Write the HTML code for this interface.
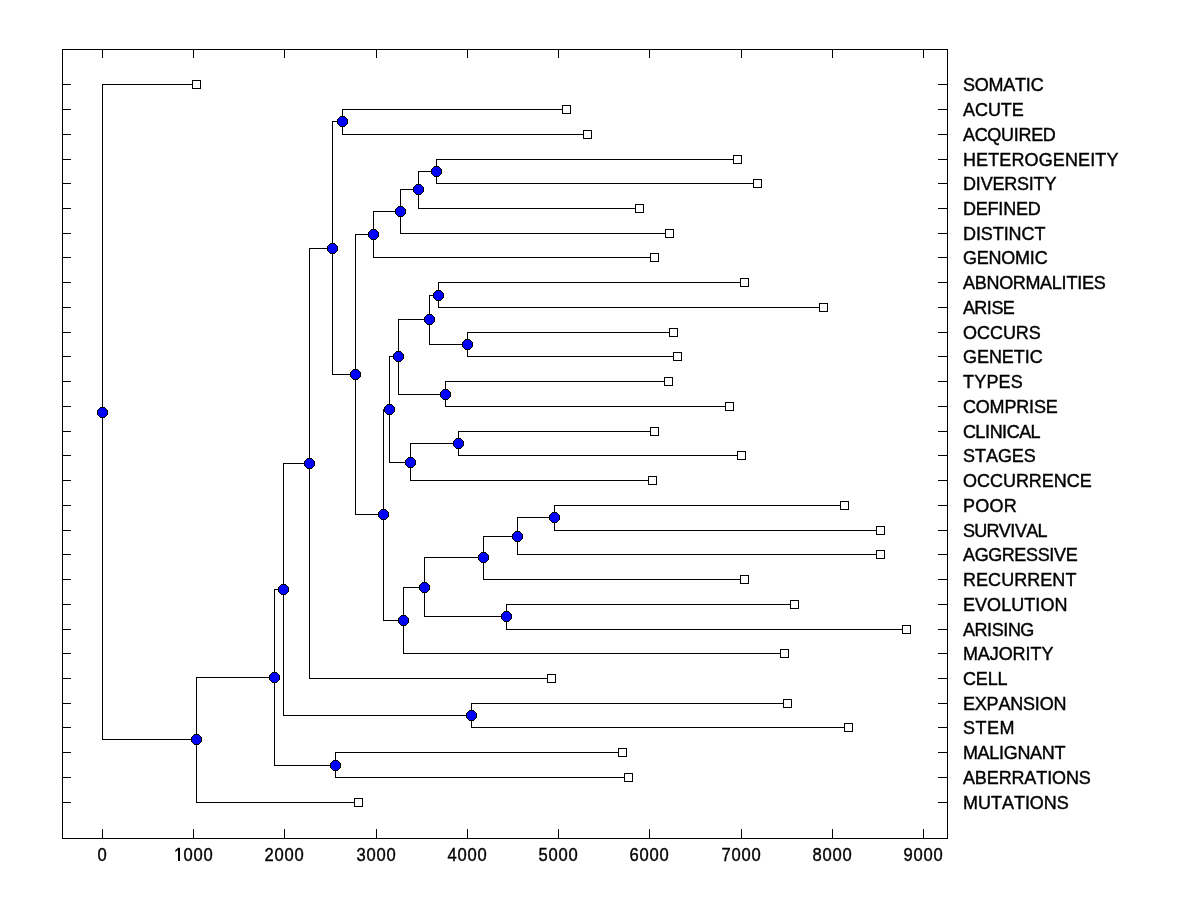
<!DOCTYPE html>
<html><head><meta charset="utf-8"><style>
html,body{margin:0;padding:0;background:#fff;}
svg{display:block;}
text{font-family:"Liberation Sans",sans-serif;font-size:18.0px;fill:#000;stroke:#000;stroke-width:0.4px;}
</style></head><body>
<svg width="1200" height="900" viewBox="0 0 1200 900">
<rect x="0" y="0" width="1200" height="900" fill="#fff"/>
<path shape-rendering="crispEdges" fill="#000" d="M62 49h886v1h-886zM62 838h886v1h-886zM62 49h1v790h-1zM947 49h1v790h-1zM102 829h1v10h-1zM102 49h1v9h-1zM193 829h1v10h-1zM193 49h1v9h-1zM284 829h1v10h-1zM284 49h1v9h-1zM376 829h1v10h-1zM376 49h1v9h-1zM467 829h1v10h-1zM467 49h1v9h-1zM558 829h1v10h-1zM558 49h1v9h-1zM649 829h1v10h-1zM649 49h1v9h-1zM741 829h1v10h-1zM741 49h1v9h-1zM832 829h1v10h-1zM832 49h1v9h-1zM923 829h1v10h-1zM923 49h1v9h-1zM62 84h9v1h-9zM938 84h10v1h-10zM62 109h9v1h-9zM938 109h10v1h-10zM62 134h9v1h-9zM938 134h10v1h-10zM62 159h9v1h-9zM938 159h10v1h-10zM62 183h9v1h-9zM938 183h10v1h-10zM62 208h9v1h-9zM938 208h10v1h-10zM62 233h9v1h-9zM938 233h10v1h-10zM62 257h9v1h-9zM938 257h10v1h-10zM62 282h9v1h-9zM938 282h10v1h-10zM62 307h9v1h-9zM938 307h10v1h-10zM62 332h9v1h-9zM938 332h10v1h-10zM62 356h9v1h-9zM938 356h10v1h-10zM62 381h9v1h-9zM938 381h10v1h-10zM62 406h9v1h-9zM938 406h10v1h-10zM62 431h9v1h-9zM938 431h10v1h-10zM62 455h9v1h-9zM938 455h10v1h-10zM62 480h9v1h-9zM938 480h10v1h-10zM62 505h9v1h-9zM938 505h10v1h-10zM62 530h9v1h-9zM938 530h10v1h-10zM62 554h9v1h-9zM938 554h10v1h-10zM62 579h9v1h-9zM938 579h10v1h-10zM62 604h9v1h-9zM938 604h10v1h-10zM62 629h9v1h-9zM938 629h10v1h-10zM62 653h9v1h-9zM938 653h10v1h-10zM62 678h9v1h-9zM938 678h10v1h-10zM62 703h9v1h-9zM938 703h10v1h-10zM62 727h9v1h-9zM938 727h10v1h-10zM62 752h9v1h-9zM938 752h10v1h-10zM62 777h9v1h-9zM938 777h10v1h-10zM62 802h9v1h-9zM938 802h10v1h-10zM102 84h1v656h-1zM102 84h95v1h-95zM102 739h95v1h-95zM196 677h1v126h-1zM196 677h79v1h-79zM196 802h163v1h-163zM274 589h1v177h-1zM274 589h10v1h-10zM274 765h62v1h-62zM335 752h1v26h-1zM335 752h288v1h-288zM335 777h294v1h-294zM283 463h1v253h-1zM283 463h27v1h-27zM283 715h189v1h-189zM471 703h1v25h-1zM471 703h317v1h-317zM471 727h378v1h-378zM309 248h1v431h-1zM309 248h24v1h-24zM309 678h243v1h-243zM332 121h1v254h-1zM332 121h11v1h-11zM332 374h24v1h-24zM342 109h1v26h-1zM342 109h225v1h-225zM342 134h246v1h-246zM355 234h1v281h-1zM355 234h19v1h-19zM355 514h29v1h-29zM373 211h1v47h-1zM373 211h28v1h-28zM373 257h282v1h-282zM400 189h1v45h-1zM400 189h19v1h-19zM400 233h270v1h-270zM418 171h1v38h-1zM418 171h19v1h-19zM418 208h222v1h-222zM436 159h1v25h-1zM436 159h302v1h-302zM436 183h322v1h-322zM383 409h1v212h-1zM383 409h7v1h-7zM383 620h21v1h-21zM389 356h1v107h-1zM389 356h10v1h-10zM389 462h22v1h-22zM398 319h1v76h-1zM398 319h32v1h-32zM398 394h48v1h-48zM429 295h1v50h-1zM429 295h10v1h-10zM429 344h39v1h-39zM438 282h1v26h-1zM438 282h307v1h-307zM438 307h386v1h-386zM467 332h1v25h-1zM467 332h207v1h-207zM467 356h211v1h-211zM445 381h1v26h-1zM445 381h224v1h-224zM445 406h285v1h-285zM410 443h1v38h-1zM410 443h49v1h-49zM410 480h243v1h-243zM458 431h1v25h-1zM458 431h197v1h-197zM458 455h284v1h-284zM403 587h1v67h-1zM403 587h22v1h-22zM403 653h382v1h-382zM424 557h1v60h-1zM424 557h60v1h-60zM424 616h83v1h-83zM483 536h1v44h-1zM483 536h35v1h-35zM483 579h262v1h-262zM517 517h1v38h-1zM517 517h38v1h-38zM517 554h364v1h-364zM554 505h1v26h-1zM554 505h291v1h-291zM554 530h327v1h-327zM506 604h1v26h-1zM506 604h289v1h-289zM506 629h401v1h-401z"/>
<path shape-rendering="crispEdges" fill="#000" d="M100 407 105 407 105 408 106 408 106 409 107 409 107 410 108 410 108 415 107 415 107 416 106 416 106 417 105 417 105 418 100 418 100 417 99 417 99 416 98 416 98 415 97 415 97 410 98 410 98 409 99 409 99 408 100 408zM194 734 199 734 199 735 200 735 200 736 201 736 201 737 202 737 202 742 201 742 201 743 200 743 200 744 199 744 199 745 194 745 194 744 193 744 193 743 192 743 192 742 191 742 191 737 192 737 192 736 193 736 193 735 194 735zM272 672 277 672 277 673 278 673 278 674 279 674 279 675 280 675 280 680 279 680 279 681 278 681 278 682 277 682 277 683 272 683 272 682 271 682 271 681 270 681 270 680 269 680 269 675 270 675 270 674 271 674 271 673 272 673zM333 760 338 760 338 761 339 761 339 762 340 762 340 763 341 763 341 768 340 768 340 769 339 769 339 770 338 770 338 771 333 771 333 770 332 770 332 769 331 769 331 768 330 768 330 763 331 763 331 762 332 762 332 761 333 761zM281 584 286 584 286 585 287 585 287 586 288 586 288 587 289 587 289 592 288 592 288 593 287 593 287 594 286 594 286 595 281 595 281 594 280 594 280 593 279 593 279 592 278 592 278 587 279 587 279 586 280 586 280 585 281 585zM469 710 474 710 474 711 475 711 475 712 476 712 476 713 477 713 477 718 476 718 476 719 475 719 475 720 474 720 474 721 469 721 469 720 468 720 468 719 467 719 467 718 466 718 466 713 467 713 467 712 468 712 468 711 469 711zM307 458 312 458 312 459 313 459 313 460 314 460 314 461 315 461 315 466 314 466 314 467 313 467 313 468 312 468 312 469 307 469 307 468 306 468 306 467 305 467 305 466 304 466 304 461 305 461 305 460 306 460 306 459 307 459zM330 243 335 243 335 244 336 244 336 245 337 245 337 246 338 246 338 251 337 251 337 252 336 252 336 253 335 253 335 254 330 254 330 253 329 253 329 252 328 252 328 251 327 251 327 246 328 246 328 245 329 245 329 244 330 244zM340 116 345 116 345 117 346 117 346 118 347 118 347 119 348 119 348 124 347 124 347 125 346 125 346 126 345 126 345 127 340 127 340 126 339 126 339 125 338 125 338 124 337 124 337 119 338 119 338 118 339 118 339 117 340 117zM353 369 358 369 358 370 359 370 359 371 360 371 360 372 361 372 361 377 360 377 360 378 359 378 359 379 358 379 358 380 353 380 353 379 352 379 352 378 351 378 351 377 350 377 350 372 351 372 351 371 352 371 352 370 353 370zM371 229 376 229 376 230 377 230 377 231 378 231 378 232 379 232 379 237 378 237 378 238 377 238 377 239 376 239 376 240 371 240 371 239 370 239 370 238 369 238 369 237 368 237 368 232 369 232 369 231 370 231 370 230 371 230zM398 206 403 206 403 207 404 207 404 208 405 208 405 209 406 209 406 214 405 214 405 215 404 215 404 216 403 216 403 217 398 217 398 216 397 216 397 215 396 215 396 214 395 214 395 209 396 209 396 208 397 208 397 207 398 207zM416 184 421 184 421 185 422 185 422 186 423 186 423 187 424 187 424 192 423 192 423 193 422 193 422 194 421 194 421 195 416 195 416 194 415 194 415 193 414 193 414 192 413 192 413 187 414 187 414 186 415 186 415 185 416 185zM434 166 439 166 439 167 440 167 440 168 441 168 441 169 442 169 442 174 441 174 441 175 440 175 440 176 439 176 439 177 434 177 434 176 433 176 433 175 432 175 432 174 431 174 431 169 432 169 432 168 433 168 433 167 434 167zM381 509 386 509 386 510 387 510 387 511 388 511 388 512 389 512 389 517 388 517 388 518 387 518 387 519 386 519 386 520 381 520 381 519 380 519 380 518 379 518 379 517 378 517 378 512 379 512 379 511 380 511 380 510 381 510zM387 404 392 404 392 405 393 405 393 406 394 406 394 407 395 407 395 412 394 412 394 413 393 413 393 414 392 414 392 415 387 415 387 414 386 414 386 413 385 413 385 412 384 412 384 407 385 407 385 406 386 406 386 405 387 405zM396 351 401 351 401 352 402 352 402 353 403 353 403 354 404 354 404 359 403 359 403 360 402 360 402 361 401 361 401 362 396 362 396 361 395 361 395 360 394 360 394 359 393 359 393 354 394 354 394 353 395 353 395 352 396 352zM427 314 432 314 432 315 433 315 433 316 434 316 434 317 435 317 435 322 434 322 434 323 433 323 433 324 432 324 432 325 427 325 427 324 426 324 426 323 425 323 425 322 424 322 424 317 425 317 425 316 426 316 426 315 427 315zM436 290 441 290 441 291 442 291 442 292 443 292 443 293 444 293 444 298 443 298 443 299 442 299 442 300 441 300 441 301 436 301 436 300 435 300 435 299 434 299 434 298 433 298 433 293 434 293 434 292 435 292 435 291 436 291zM465 339 470 339 470 340 471 340 471 341 472 341 472 342 473 342 473 347 472 347 472 348 471 348 471 349 470 349 470 350 465 350 465 349 464 349 464 348 463 348 463 347 462 347 462 342 463 342 463 341 464 341 464 340 465 340zM443 389 448 389 448 390 449 390 449 391 450 391 450 392 451 392 451 397 450 397 450 398 449 398 449 399 448 399 448 400 443 400 443 399 442 399 442 398 441 398 441 397 440 397 440 392 441 392 441 391 442 391 442 390 443 390zM408 457 413 457 413 458 414 458 414 459 415 459 415 460 416 460 416 465 415 465 415 466 414 466 414 467 413 467 413 468 408 468 408 467 407 467 407 466 406 466 406 465 405 465 405 460 406 460 406 459 407 459 407 458 408 458zM456 438 461 438 461 439 462 439 462 440 463 440 463 441 464 441 464 446 463 446 463 447 462 447 462 448 461 448 461 449 456 449 456 448 455 448 455 447 454 447 454 446 453 446 453 441 454 441 454 440 455 440 455 439 456 439zM401 615 406 615 406 616 407 616 407 617 408 617 408 618 409 618 409 623 408 623 408 624 407 624 407 625 406 625 406 626 401 626 401 625 400 625 400 624 399 624 399 623 398 623 398 618 399 618 399 617 400 617 400 616 401 616zM422 582 427 582 427 583 428 583 428 584 429 584 429 585 430 585 430 590 429 590 429 591 428 591 428 592 427 592 427 593 422 593 422 592 421 592 421 591 420 591 420 590 419 590 419 585 420 585 420 584 421 584 421 583 422 583zM481 552 486 552 486 553 487 553 487 554 488 554 488 555 489 555 489 560 488 560 488 561 487 561 487 562 486 562 486 563 481 563 481 562 480 562 480 561 479 561 479 560 478 560 478 555 479 555 479 554 480 554 480 553 481 553zM515 531 520 531 520 532 521 532 521 533 522 533 522 534 523 534 523 539 522 539 522 540 521 540 521 541 520 541 520 542 515 542 515 541 514 541 514 540 513 540 513 539 512 539 512 534 513 534 513 533 514 533 514 532 515 532zM552 512 557 512 557 513 558 513 558 514 559 514 559 515 560 515 560 520 559 520 559 521 558 521 558 522 557 522 557 523 552 523 552 522 551 522 551 521 550 521 550 520 549 520 549 515 550 515 550 514 551 514 551 513 552 513zM504 611 509 611 509 612 510 612 510 613 511 613 511 614 512 614 512 619 511 619 511 620 510 620 510 621 509 621 509 622 504 622 504 621 503 621 503 620 502 620 502 619 501 619 501 614 502 614 502 613 503 613 503 612 504 612z"/>
<path shape-rendering="crispEdges" fill="#0000ff" d="M100 408 105 408 105 409 106 409 106 410 107 410 107 415 106 415 106 416 105 416 105 417 100 417 100 416 99 416 99 415 98 415 98 410 99 410 99 409 100 409zM194 735 199 735 199 736 200 736 200 737 201 737 201 742 200 742 200 743 199 743 199 744 194 744 194 743 193 743 193 742 192 742 192 737 193 737 193 736 194 736zM272 673 277 673 277 674 278 674 278 675 279 675 279 680 278 680 278 681 277 681 277 682 272 682 272 681 271 681 271 680 270 680 270 675 271 675 271 674 272 674zM333 761 338 761 338 762 339 762 339 763 340 763 340 768 339 768 339 769 338 769 338 770 333 770 333 769 332 769 332 768 331 768 331 763 332 763 332 762 333 762zM281 585 286 585 286 586 287 586 287 587 288 587 288 592 287 592 287 593 286 593 286 594 281 594 281 593 280 593 280 592 279 592 279 587 280 587 280 586 281 586zM469 711 474 711 474 712 475 712 475 713 476 713 476 718 475 718 475 719 474 719 474 720 469 720 469 719 468 719 468 718 467 718 467 713 468 713 468 712 469 712zM307 459 312 459 312 460 313 460 313 461 314 461 314 466 313 466 313 467 312 467 312 468 307 468 307 467 306 467 306 466 305 466 305 461 306 461 306 460 307 460zM330 244 335 244 335 245 336 245 336 246 337 246 337 251 336 251 336 252 335 252 335 253 330 253 330 252 329 252 329 251 328 251 328 246 329 246 329 245 330 245zM340 117 345 117 345 118 346 118 346 119 347 119 347 124 346 124 346 125 345 125 345 126 340 126 340 125 339 125 339 124 338 124 338 119 339 119 339 118 340 118zM353 370 358 370 358 371 359 371 359 372 360 372 360 377 359 377 359 378 358 378 358 379 353 379 353 378 352 378 352 377 351 377 351 372 352 372 352 371 353 371zM371 230 376 230 376 231 377 231 377 232 378 232 378 237 377 237 377 238 376 238 376 239 371 239 371 238 370 238 370 237 369 237 369 232 370 232 370 231 371 231zM398 207 403 207 403 208 404 208 404 209 405 209 405 214 404 214 404 215 403 215 403 216 398 216 398 215 397 215 397 214 396 214 396 209 397 209 397 208 398 208zM416 185 421 185 421 186 422 186 422 187 423 187 423 192 422 192 422 193 421 193 421 194 416 194 416 193 415 193 415 192 414 192 414 187 415 187 415 186 416 186zM434 167 439 167 439 168 440 168 440 169 441 169 441 174 440 174 440 175 439 175 439 176 434 176 434 175 433 175 433 174 432 174 432 169 433 169 433 168 434 168zM381 510 386 510 386 511 387 511 387 512 388 512 388 517 387 517 387 518 386 518 386 519 381 519 381 518 380 518 380 517 379 517 379 512 380 512 380 511 381 511zM387 405 392 405 392 406 393 406 393 407 394 407 394 412 393 412 393 413 392 413 392 414 387 414 387 413 386 413 386 412 385 412 385 407 386 407 386 406 387 406zM396 352 401 352 401 353 402 353 402 354 403 354 403 359 402 359 402 360 401 360 401 361 396 361 396 360 395 360 395 359 394 359 394 354 395 354 395 353 396 353zM427 315 432 315 432 316 433 316 433 317 434 317 434 322 433 322 433 323 432 323 432 324 427 324 427 323 426 323 426 322 425 322 425 317 426 317 426 316 427 316zM436 291 441 291 441 292 442 292 442 293 443 293 443 298 442 298 442 299 441 299 441 300 436 300 436 299 435 299 435 298 434 298 434 293 435 293 435 292 436 292zM465 340 470 340 470 341 471 341 471 342 472 342 472 347 471 347 471 348 470 348 470 349 465 349 465 348 464 348 464 347 463 347 463 342 464 342 464 341 465 341zM443 390 448 390 448 391 449 391 449 392 450 392 450 397 449 397 449 398 448 398 448 399 443 399 443 398 442 398 442 397 441 397 441 392 442 392 442 391 443 391zM408 458 413 458 413 459 414 459 414 460 415 460 415 465 414 465 414 466 413 466 413 467 408 467 408 466 407 466 407 465 406 465 406 460 407 460 407 459 408 459zM456 439 461 439 461 440 462 440 462 441 463 441 463 446 462 446 462 447 461 447 461 448 456 448 456 447 455 447 455 446 454 446 454 441 455 441 455 440 456 440zM401 616 406 616 406 617 407 617 407 618 408 618 408 623 407 623 407 624 406 624 406 625 401 625 401 624 400 624 400 623 399 623 399 618 400 618 400 617 401 617zM422 583 427 583 427 584 428 584 428 585 429 585 429 590 428 590 428 591 427 591 427 592 422 592 422 591 421 591 421 590 420 590 420 585 421 585 421 584 422 584zM481 553 486 553 486 554 487 554 487 555 488 555 488 560 487 560 487 561 486 561 486 562 481 562 481 561 480 561 480 560 479 560 479 555 480 555 480 554 481 554zM515 532 520 532 520 533 521 533 521 534 522 534 522 539 521 539 521 540 520 540 520 541 515 541 515 540 514 540 514 539 513 539 513 534 514 534 514 533 515 533zM552 513 557 513 557 514 558 514 558 515 559 515 559 520 558 520 558 521 557 521 557 522 552 522 552 521 551 521 551 520 550 520 550 515 551 515 551 514 552 514zM504 612 509 612 509 613 510 613 510 614 511 614 511 619 510 619 510 620 509 620 509 621 504 621 504 620 503 620 503 619 502 619 502 614 503 614 503 613 504 613z"/>
<path shape-rendering="crispEdges" fill="#000" d="M192 80h9v9h-9zM562 105h9v9h-9zM583 130h9v9h-9zM733 155h9v9h-9zM753 179h9v9h-9zM635 204h9v9h-9zM665 229h9v9h-9zM650 253h9v9h-9zM740 278h9v9h-9zM819 303h9v9h-9zM669 328h9v9h-9zM673 352h9v9h-9zM664 377h9v9h-9zM725 402h9v9h-9zM650 427h9v9h-9zM737 451h9v9h-9zM648 476h9v9h-9zM840 501h9v9h-9zM876 526h9v9h-9zM876 550h9v9h-9zM740 575h9v9h-9zM790 600h9v9h-9zM902 625h9v9h-9zM780 649h9v9h-9zM547 674h9v9h-9zM783 699h9v9h-9zM844 723h9v9h-9zM618 748h9v9h-9zM624 773h9v9h-9zM354 798h9v9h-9z"/>
<path shape-rendering="crispEdges" fill="#fff" d="M193 81h7v7h-7zM563 106h7v7h-7zM584 131h7v7h-7zM734 156h7v7h-7zM754 180h7v7h-7zM636 205h7v7h-7zM666 230h7v7h-7zM651 254h7v7h-7zM741 279h7v7h-7zM820 304h7v7h-7zM670 329h7v7h-7zM674 353h7v7h-7zM665 378h7v7h-7zM726 403h7v7h-7zM651 428h7v7h-7zM738 452h7v7h-7zM649 477h7v7h-7zM841 502h7v7h-7zM877 527h7v7h-7zM877 551h7v7h-7zM741 576h7v7h-7zM791 601h7v7h-7zM903 626h7v7h-7zM781 650h7v7h-7zM548 675h7v7h-7zM784 700h7v7h-7zM845 724h7v7h-7zM619 749h7v7h-7zM625 774h7v7h-7zM355 799h7v7h-7z"/>
<g style="will-change:transform">
<text transform="translate(0 91.0) scale(1.0 1.024)" x="963.0 974.78 988.51 1003.22 1015.0 1025.78 1030.69" y="0">SOMATIC</text>
<text transform="translate(0 116.0) scale(1.0 1.024)" x="963.0 974.95 987.89 1000.82 1011.77" y="0">ACUTE</text>
<text transform="translate(0 141.0) scale(1.0 1.024)" x="963.0 974.69 987.35 1000.98 1013.64 1018.51 1031.17 1042.86" y="0">ACQUIRED</text>
<text transform="translate(0 166.0) scale(1.0 1.024)" x="963.0 976.12 988.25 999.35 1011.47 1024.6 1038.73 1052.87 1064.99 1078.12 1090.24 1095.29 1106.39" y="0">HETEROGENEITY</text>
<text transform="translate(0 190.0) scale(1.0 1.024)" x="963.0 975.74 980.65 992.42 1004.19 1016.94 1028.71 1033.61 1044.39" y="0">DIVERSITY</text>
<text transform="translate(0 215.0) scale(1.0 1.024)" x="963.0 975.77 987.57 998.38 1003.29 1016.06 1027.86" y="0">DEFINED</text>
<text transform="translate(0 240.0) scale(1.0 1.024)" x="963.0 975.89 980.85 992.76 1003.67 1008.63 1021.52 1034.42" y="0">DISTINCT</text>
<text transform="translate(0 264.0) scale(1.0 1.024)" x="963.0 976.75 988.54 1001.3 1015.05 1029.78 1034.69" y="0">GENOMIC</text>
<text transform="translate(0 289.0) scale(1.0 1.024)" x="963.0 974.72 986.44 999.13 1012.79 1025.48 1040.12 1051.83 1061.61 1066.49 1077.22 1082.1 1093.82" y="0">ABNORMALITIES</text>
<text transform="translate(0 314.0) scale(1.0 1.024)" x="963.0 974.36 986.67 991.4 1002.77" y="0">ARISE</text>
<text transform="translate(0 339.0) scale(1.0 1.024)" x="963.0 976.96 989.93 1002.89 1015.86 1028.82" y="0">OCCURS</text>
<text transform="translate(0 363.0) scale(1.0 1.024)" x="963.0 976.93 988.88 1001.82 1013.77 1024.71 1029.69" y="0">GENETIC</text>
<text transform="translate(0 388.0) scale(1.0 1.024)" x="963.0 974.18 986.4 998.61 1010.82" y="0">TYPES</text>
<text transform="translate(0 413.0) scale(1.0 1.024)" x="963.0 975.81 989.6 1004.38 1016.2 1029.01 1033.94 1045.77" y="0">COMPRISE</text>
<text transform="translate(0 438.0) scale(1.0 1.024)" x="963.0 975.37 984.9 989.66 1002.03 1006.79 1019.16 1030.59" y="0">CLINICAL</text>
<text transform="translate(0 462.0) scale(1.0 1.024)" x="963.0 974.97 985.93 997.9 1011.85 1023.82" y="0">STAGES</text>
<text transform="translate(0 487.0) scale(1.0 1.024)" x="963.0 976.97 989.95 1002.92 1015.89 1028.87 1041.84 1053.82 1066.79 1079.77" y="0">OCCURRENCE</text>
<text transform="translate(0 512.0) scale(1.0 1.024)" x="963.0 975.25 989.55 1003.84" y="0">POOR</text>
<text transform="translate(0 537.0) scale(1.0 1.024)" x="963.0 974.33 986.6 998.87 1010.2 1014.92 1026.25 1037.59" y="0">SURVIVAL</text>
<text transform="translate(0 561.0) scale(1.0 1.024)" x="963.0 974.64 988.21 1001.78 1014.38 1026.01 1037.65 1049.28 1054.13 1065.77" y="0">AGGRESSIVE</text>
<text transform="translate(0 586.0) scale(1.0 1.024)" x="963.0 976.05 988.11 1001.16 1014.21 1027.26 1040.31 1052.37 1065.42" y="0">RECURRENT</text>
<text transform="translate(0 611.0) scale(1.0 1.024)" x="963.0 975.07 987.13 1001.2 1011.26 1024.32 1035.37 1040.4 1054.47" y="0">EVOLUTION</text>
<text transform="translate(0 636.0) scale(1.0 1.024)" x="963.0 974.47 986.89 991.67 1003.14 1007.92 1020.34" y="0">ARISING</text>
<text transform="translate(0 660.0) scale(1.0 1.024)" x="963.0 977.88 989.79 998.72 1012.62 1025.52 1030.48 1041.39" y="0">MAJORITY</text>
<text transform="translate(0 685.0) scale(1.0 1.024)" x="963.0 975.84 987.7 997.59" y="0">CELL</text>
<text transform="translate(0 710.0) scale(1.0 1.024)" x="963.0 974.8 986.6 998.41 1010.21 1022.99 1034.79 1039.71 1053.47" y="0">EXPANSION</text>
<text transform="translate(0 734.0) scale(1.0 1.024)" x="963.0 975.51 986.97 999.48" y="0">STEM</text>
<text transform="translate(0 759.0) scale(1.0 1.024)" x="963.0 977.58 989.25 998.99 1003.85 1017.46 1030.1 1041.78 1054.42" y="0">MALIGNANT</text>
<text transform="translate(0 784.0) scale(1.0 1.024)" x="963.0 974.88 986.77 998.65 1011.52 1024.38 1036.26 1047.15 1052.1 1065.95 1078.82" y="0">ABERRATIONS</text>
<text transform="translate(0 809.0) scale(1.0 1.024)" x="963.0 977.97 990.94 1001.92 1013.9 1024.88 1029.87 1043.84 1056.82" y="0">MUTATIONS</text>
</g>
<g style="will-change:transform">
<text transform="translate(0 861) scale(0.92 1.024)" x="105.87" y="0">0</text>
<text transform="translate(0 861) scale(0.92 1.024)" x="189.13 199.35 210.22 221.09" y="0">1000</text>
<text transform="translate(0 861) scale(0.92 1.024)" x="287.39 298.26 309.13 320.0" y="0">2000</text>
<text transform="translate(0 861) scale(0.92 1.024)" x="387.39 398.26 409.13 420.0" y="0">3000</text>
<text transform="translate(0 861) scale(0.92 1.024)" x="486.3 497.17 508.04 518.91" y="0">4000</text>
<text transform="translate(0 861) scale(0.92 1.024)" x="585.22 596.09 606.96 617.83" y="0">5000</text>
<text transform="translate(0 861) scale(0.92 1.024)" x="684.14 695.0 705.87 716.74" y="0">6000</text>
<text transform="translate(0 861) scale(0.92 1.024)" x="784.13 795.0 805.87 816.74" y="0">7000</text>
<text transform="translate(0 861) scale(0.92 1.024)" x="883.04 893.91 904.78 915.65" y="0">8000</text>
<text transform="translate(0 861) scale(0.92 1.024)" x="981.96 992.83 1003.7 1014.57" y="0">9000</text>
</g>
<path shape-rendering="crispEdges" fill="#fff" d="M173 858h5v4h-5zM180 858h4v4h-4zM178 861h2v1h-2z"/>
<path shape-rendering="crispEdges" fill="#000" d="M178 848h2v13h-2z"/>
</svg>
</body></html>
